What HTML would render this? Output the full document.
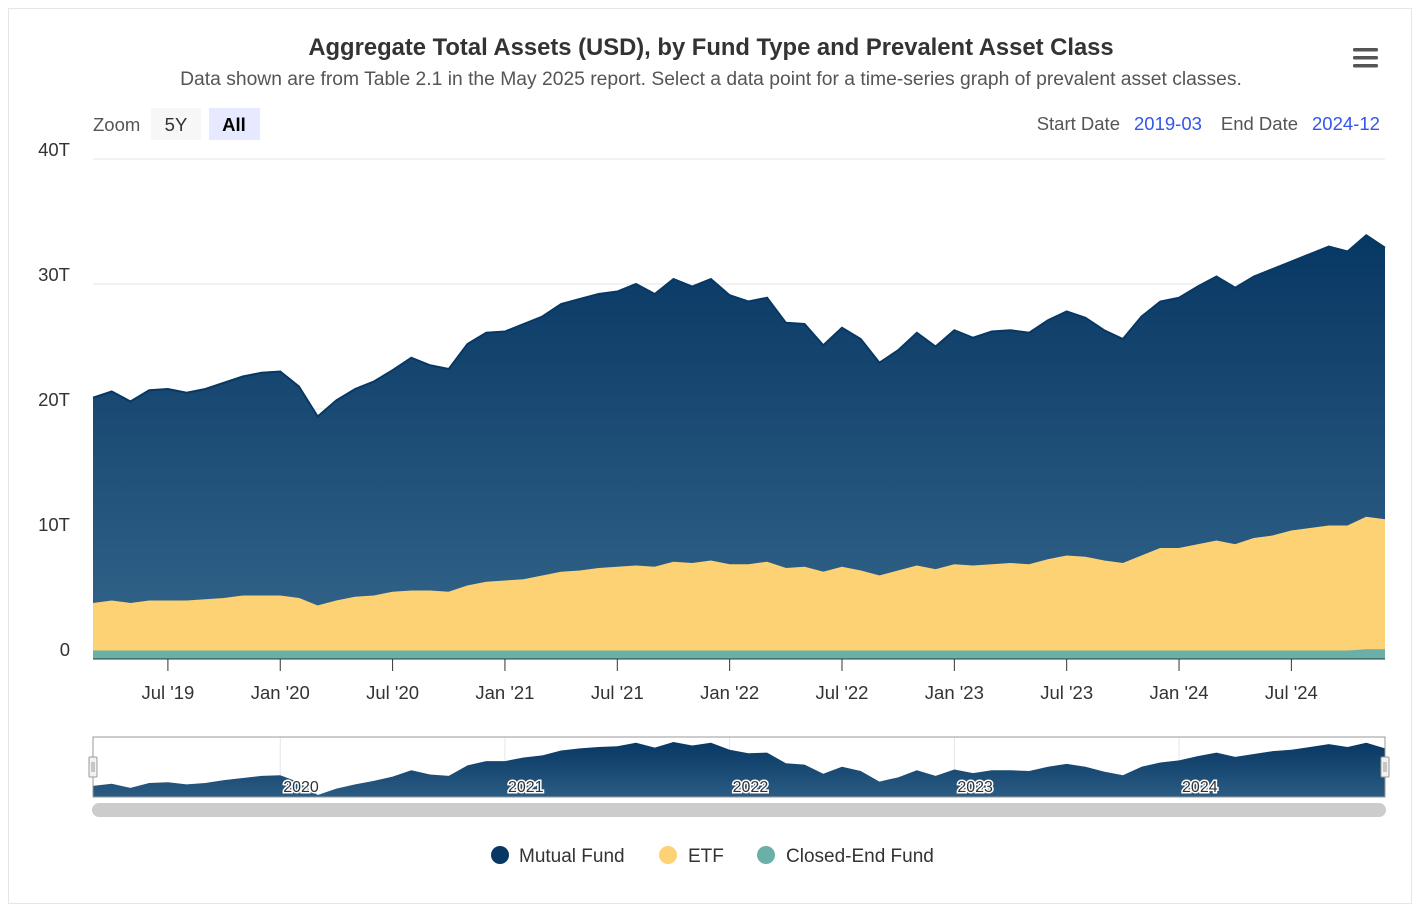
<!DOCTYPE html>
<html><head><meta charset="utf-8">
<style>
body{margin:0;background:#fff;font-family:"Liberation Sans",Arial,sans-serif;}
#wrap{position:absolute;left:8px;top:8px;width:1404px;height:896px;border:1px solid #e6e6e6;box-sizing:border-box;}
</style></head>
<body>
<div id="wrap"></div>
<svg id="chart" width="1419" height="905" style="position:absolute;left:0;top:0" xmlns="http://www.w3.org/2000/svg">
<defs>
<linearGradient id="mfGrad" x1="0" y1="0" x2="0" y2="1">
<stop offset="0" stop-color="#073763"/><stop offset="1" stop-color="#2f6086"/></linearGradient>
<linearGradient id="navGrad" x1="0" y1="0" x2="0" y2="1">
<stop offset="0" stop-color="#073763"/><stop offset="1" stop-color="#2b5c83"/></linearGradient>
</defs>
<text x="711" y="55" text-anchor="middle" font-size="23.8" font-weight="bold" fill="#333">Aggregate Total Assets (USD), by Fund Type and Prevalent Asset Class</text>
<text x="711" y="85" text-anchor="middle" font-size="19.3" fill="#555">Data shown are from Table 2.1 in the May 2025 report. Select a data point for a time-series graph of prevalent asset classes.</text>
<g fill="#555">
<rect x="1353" y="48" width="25" height="3.5" rx="1.5"/><rect x="1353" y="56" width="25" height="3.5" rx="1.5"/><rect x="1353" y="64" width="25" height="3.5" rx="1.5"/></g>
<text x="93" y="131" font-size="18.5" fill="#555">Zoom</text>
<rect x="151" y="108" width="50" height="32" fill="#f7f7f7"/>
<text x="176" y="131" text-anchor="middle" font-size="18.5" fill="#333">5Y</text>
<rect x="209" y="108" width="51" height="32" fill="#e6e9ff"/>
<text x="234" y="131" text-anchor="middle" font-size="18.5" font-weight="bold" fill="#000">All</text>
<text x="1120" y="130" text-anchor="end" font-size="18.5" fill="#555">Start Date</text>
<text x="1134" y="130" font-size="18.5" fill="#3355ee">2019-03</text>
<text x="1298" y="130" text-anchor="end" font-size="18.5" fill="#555">End Date</text>
<text x="1312" y="130" font-size="18.5" fill="#3355ee">2024-12</text>
<g id="plot"></g>
<g font-size="19" fill="#333">
<g><circle cx="500" cy="855" r="9" fill="#073763"/><text x="519" y="862">Mutual Fund</text></g>
<g><circle cx="668" cy="855" r="9" fill="#fcd275"/><text x="688" y="862">ETF</text></g>
<g><circle cx="766" cy="855" r="9" fill="#6ab0a8"/><text x="786" y="862">Closed-End Fund</text></g>
</g>
</svg>
<script>
const mutualFund=[16.5,16.8,16.2,16.9,17.0,16.7,16.9,17.3,17.6,17.9,18.0,17.0,15.2,16.1,16.7,17.2,17.8,18.7,18.1,17.9,19.4,20.0,20.0,20.5,20.8,21.5,21.8,22.0,22.1,22.6,21.9,22.7,22.2,22.6,21.6,21.1,21.2,19.7,19.5,18.2,19.2,18.6,17.1,17.7,18.7,17.9,18.8,18.3,18.7,18.7,18.6,19.2,19.6,19.2,18.5,18.0,19.2,19.8,20.1,20.7,21.2,20.6,21.0,21.4,21.6,22.0,22.4,22.0,22.6,21.8];
const etf=[3.8,4.0,3.8,4.0,4.0,4.0,4.1,4.2,4.4,4.4,4.4,4.2,3.6,4.0,4.3,4.4,4.7,4.8,4.8,4.7,5.2,5.5,5.6,5.7,6.0,6.3,6.4,6.6,6.7,6.8,6.7,7.1,7.0,7.2,6.9,6.9,7.1,6.6,6.7,6.3,6.7,6.4,6.0,6.4,6.8,6.5,6.9,6.8,6.9,7.0,6.9,7.3,7.6,7.5,7.2,7.0,7.6,8.2,8.2,8.5,8.8,8.5,9.0,9.2,9.6,9.8,10.0,10.0,10.6,10.4];
const closedEnd=[0.6,0.6,0.6,0.6,0.6,0.6,0.6,0.6,0.6,0.6,0.6,0.6,0.6,0.6,0.6,0.6,0.6,0.6,0.6,0.6,0.6,0.6,0.6,0.6,0.6,0.6,0.6,0.6,0.6,0.6,0.6,0.6,0.6,0.6,0.6,0.6,0.6,0.6,0.6,0.6,0.6,0.6,0.6,0.6,0.6,0.6,0.6,0.6,0.6,0.6,0.6,0.6,0.6,0.6,0.6,0.6,0.6,0.6,0.6,0.6,0.6,0.6,0.6,0.6,0.6,0.6,0.6,0.6,0.7,0.7];
const yTicks=[0,10,20,30,40];
const yTickLabels=["0","10T","20T","30T","40T"];
const xTickMonths=[4,10,16,22,28,34,40,46,52,58,64];
const xTickLabels=["Jul '19","Jan '20","Jul '20","Jan '21","Jul '21","Jan '22","Jul '22","Jan '23","Jul '23","Jan '24","Jul '24"];
const navYears=[10,22,34,46,58];
const navLabels=["2020","2021","2022","2023","2024"];

const NS="http://www.w3.org/2000/svg";
const plot=document.getElementById('plot');
const X0=93,X1=1385,Y0=659,PXT=12.5;
const n=mutualFund.length;
const xs=i=>X0+i*(X1-X0)/(n-1);
const ys=v=>Y0-v*PXT;
function mk(tag,attrs,parent){const e=document.createElementNS(NS,tag);for(const k in attrs)e.setAttribute(k,attrs[k]);(parent||plot).appendChild(e);return e;}

yTicks.forEach((t,i)=>{
  if(t>0){const g=mk('line',{x1:X0,x2:X1,y1:ys(t),y2:ys(t),stroke:'#e6e6e6','stroke-width':1});
  
  }
  const l=mk('text',{x:70,y:ys(t)-3,'text-anchor':'end','font-size':18.5,fill:'#333'});
  
  
  l.textContent=yTickLabels[i];
});
const cefTop=closedEnd.map(v=>v);
const etfTop=etf.map((v,i)=>v+closedEnd[i]);
const tot=mutualFund.map((v,i)=>v+etfTop[i]);
function area(top,bot,fill,name){
  let d='M'+xs(0)+','+ys(top[0]);
  for(let i=1;i<n;i++)d+='L'+xs(i)+','+ys(top[i]);
  for(let i=n-1;i>=0;i--)d+='L'+xs(i)+','+ys(bot?bot[i]:0);
  const p=mk('path',{d:d+'Z',fill:fill});
  
  
  let ld='M'+xs(0)+','+ys(top[0]);for(let i=1;i<n;i++)ld+='L'+xs(i)+','+ys(top[i]);
  mk('path',{d:ld,fill:'none',stroke:fill==='url(#mfGrad)'?'#073763':fill,'stroke-width':2});
}
area(tot,etfTop,'url(#mfGrad)','mutual-fund-area');
area(etfTop,cefTop,'#fcd275','etf-area');
area(cefTop,null,'#6ab0a8','closed-end-fund-area');

const ax=mk('line',{x1:X0,x2:X1,y1:Y0,y2:Y0,stroke:'#333','stroke-width':1});


xTickMonths.forEach((m,i)=>{
  mk('line',{x1:xs(m),x2:xs(m),y1:Y0,y2:Y0+12,stroke:'#333'});
  const t=mk('text',{x:xs(m),y:699,'text-anchor':'middle','font-size':18.5,fill:'#333'});
  
  
  t.textContent=xTickLabels[i];
});

// navigator
const NT=742,NB=795;
const mn=Math.min(...mutualFund),mxv=Math.max(...mutualFund);
const ny=v=>NB-(v-mn)/(mxv-mn)*(NB-NT);
navYears.forEach(m=>mk('line',{x1:xs(m),x2:xs(m),y1:737,y2:797,stroke:'#e6e6e6'}));
let nd='M'+xs(0)+','+ny(mutualFund[0]);
for(let i=1;i<n;i++)nd+='L'+xs(i)+','+ny(mutualFund[i]);
const np=mk('path',{d:nd+'L'+X1+',797L'+X0+',797Z',fill:'url(#navGrad)'});


navYears.forEach((m,i)=>{
  const t=mk('text',{x:xs(m)+3,y:792,'font-size':16,fill:'#333',stroke:'#fff','stroke-width':3,'paint-order':'stroke'});
  
  
  t.textContent=navLabels[i];
});
const nf=mk('rect',{x:X0,y:737,width:X1-X0,height:60,fill:'none',stroke:'#999'});


[X0,X1].forEach(x=>{
  const h=mk('rect',{x:x-4,y:757,width:8,height:20,rx:1,fill:'#f2f2f2',stroke:'#999'});
  
  
  mk('line',{x1:x-1,x2:x-1,y1:762,y2:772,stroke:'#999'});
  mk('line',{x1:x+1,x2:x+1,y1:762,y2:772,stroke:'#999'});
});
const sb=mk('rect',{x:X0-1,y:803,width:X1-X0+2,height:14,rx:7,fill:'#cccccc'});


</script>
</body></html>
